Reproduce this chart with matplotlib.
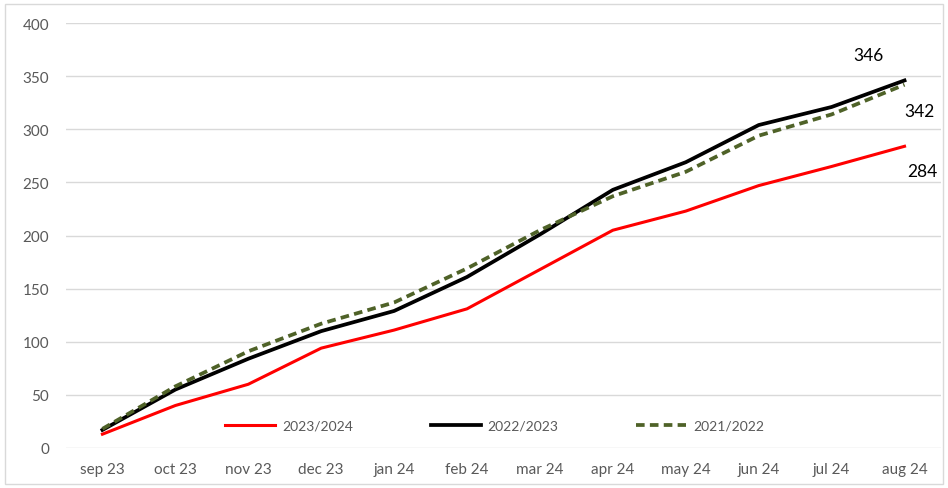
import matplotlib
matplotlib.use('Agg')
import matplotlib.pyplot as plt
from matplotlib.patches import Rectangle

months = ['sep 23', 'oct 23', 'nov 23', 'dec 23', 'jan 24', 'feb 24',
          'mar 24', 'apr 24', 'may 24', 'jun 24', 'jul 24', 'aug 24']
s2324 = [13, 40, 60, 94, 111, 131, 168, 205, 223, 247, 265, 284]
s2223 = [17, 55, 84, 110, 129, 161, 201, 243, 269, 304, 321, 346]
s2122 = [18, 58, 91, 117, 137, 169, 205, 237, 260, 294, 314, 342]

plt.rcParams['font.family'] = ['Lato', 'DejaVu Sans']

fig = plt.figure(figsize=(9.48, 4.89), dpi=100)
ax = fig.add_axes([0.0696, 0.0818, 0.923, 0.869])

x = list(range(len(months)))
ax.plot(x, s2324, color='#ff0000', lw=2.2, label='2023/2024', zorder=3)
ax.plot(x, s2223, color='black', lw=2.7, label='2022/2023', zorder=3)
ax.plot(x, s2122, color='#4f6228', lw=2.7, dashes=(2.3, 1.4),
        label='2021/2022', zorder=4)

ax.set_xlim(-0.5, 11.5)
ax.set_ylim(0, 400)
ax.set_yticks(range(0, 401, 50))
ax.set_xticks(x)
ax.set_xticklabels(months)
ax.grid(axis='y', color='#d9d9d9', lw=1)
ax.set_axisbelow(True)
for sp in ax.spines.values():
    sp.set_visible(False)
ax.tick_params(length=0, labelsize=11, colors='#595959')
ax.tick_params(axis='x', pad=10)
ax.tick_params(axis='y', pad=12)

# end labels
ax.annotate(str(s2223[-1]), (11, s2223[-1]), xytext=(-26, 18),
            textcoords='offset points', fontsize=12.5, color='black',
            ha='center', va='center')
ax.annotate(str(s2122[-1]), (11, s2122[-1]), xytext=(0, -19),
            textcoords='offset points', fontsize=12.5, color='black',
            ha='left', va='center')
ax.annotate(str(s2324[-1]), (11, s2324[-1]), xytext=(2, -18),
            textcoords='offset points', fontsize=12.5, color='black',
            ha='left', va='center')

leg = ax.legend(loc='center', bbox_to_anchor=(0.49, 0.053), ncol=3,
                frameon=False, fontsize=10, handlelength=3.6,
                columnspacing=5.6, handletextpad=0.5)
for t in leg.get_texts():
    t.set_color('#595959')

fig.patches.append(Rectangle((0.005, 0.008), 0.99, 0.982, transform=fig.transFigure,
                             fill=False, edgecolor='#d9d9d9', lw=1))

fig.savefig('out.png', dpi=100)
